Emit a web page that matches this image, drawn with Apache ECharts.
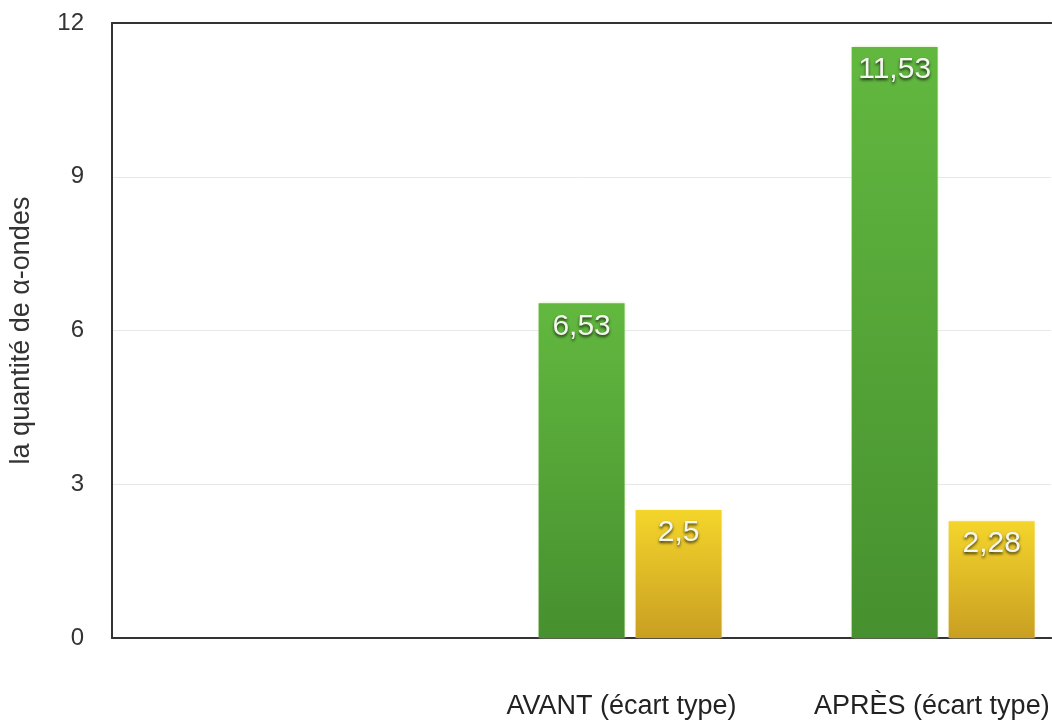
<!DOCTYPE html>
<html lang="fr">
<head>
<meta charset="utf-8">
<title>Quantité d'α-ondes</title>
<script src="https://cdn.jsdelivr.net/npm/echarts@6/dist/echarts.min.js"></script>
<style>
  html, body { margin: 0; padding: 0; background: #ffffff; }
  #chart { width: 1052px; height: 723px; }
</style>
</head>
<body>
<div id="chart"></div>
<script>
// Catégories de l'axe horizontal (la première reste vide)
const categories = ['', 'AVANT (écart type)', 'APRÈS (écart type)'];
// Série sans valeurs : occupe la première place de chaque groupe
const serieVide = [null, null, null];
// Moyenne (vert) et écart type (jaune)
const moyenne = [null, 6.53, 11.53];
const ecartType = [null, 2.5, 2.28];
// Graduations de l'axe vertical
const yTicks = [0, 3, 6, 9, 12];

const FONT = '"Liberation Sans", Helvetica, Arial, sans-serif';

const chart = echarts.init(document.getElementById('chart'), null, { renderer: 'canvas' });

function grad(top, bottom) {
  return new echarts.graphic.LinearGradient(0, 0, 0, 1, [
    { offset: 0, color: top },
    { offset: 1, color: bottom }
  ]);
}

const valueLabel = {
  show: true,
  position: 'insideTop',
  distance: 8,
  color: '#f3f7ee',
  fontFamily: FONT,
  fontSize: 30,
  textShadowColor: 'rgba(0,0,0,0.75)',
  textShadowBlur: 3,
  textShadowOffsetY: 2,
  formatter: p => String(p.value).replace('.', ',')
};

chart.setOption({
  animation: false,
  backgroundColor: '#ffffff',
  grid: { left: 111, right: -2, top: 23, bottom: 85 },
  xAxis: [
    {
      type: 'category',
      data: categories,
      position: 'bottom',
      axisLine: { show: true, lineStyle: { color: '#333333', width: 2 } },
      axisTick: { show: false },
      splitLine: { show: false },
      axisLabel: {
        interval: 0,
        margin: 55,
        color: '#222222',
        fontFamily: FONT,
        fontSize: 27,
        formatter: v => v ? '{r|' + v + '}' : '',
        rich: { r: { width: 310, align: 'right', fontSize: 27, fontFamily: FONT, color: '#222222' } }
      }
    },
    {
      type: 'category',
      data: categories,
      position: 'top',
      axisLine: { show: true, lineStyle: { color: '#333333', width: 2 } },
      axisTick: { show: false },
      axisLabel: { show: false },
      splitLine: { show: false }
    }
  ],
  yAxis: {
    type: 'value',
    min: yTicks[0],
    max: yTicks[yTicks.length - 1],
    interval: yTicks[1] - yTicks[0],
    name: 'la quantité de α-ondes',
    nameLocation: 'middle',
    nameGap: 77,
    nameRotate: 90,
    nameTextStyle: { color: '#333333', fontFamily: FONT, fontSize: 27 },
    axisLine: { show: true, lineStyle: { color: '#333333', width: 2 } },
    axisTick: { show: false },
    axisLabel: { color: '#333333', fontFamily: FONT, fontSize: 24, margin: 28 },
    splitLine: { show: true, lineStyle: { color: '#e8e8e8', width: 1 } }
  },
  series: [
    {
      name: 'Série vide',
      type: 'bar',
      data: serieVide,
      barWidth: 86,
      barGap: '12.8%'
    },
    {
      name: 'Moyenne',
      type: 'bar',
      data: moyenne,
      barWidth: 86,
      barGap: '12.8%',
      itemStyle: {
        color: grad('#62b83f', '#46902f'),
        shadowColor: 'rgba(190,225,140,0.7)',
        shadowBlur: 3
      },
      label: valueLabel
    },
    {
      name: 'Écart type',
      type: 'bar',
      data: ecartType,
      barWidth: 86,
      barGap: '12.8%',
      itemStyle: {
        color: grad('#f4d52b', '#c99f22'),
        shadowColor: 'rgba(245,230,150,0.7)',
        shadowBlur: 3
      },
      label: valueLabel
    }
  ]
});
</script>
</body>
</html>
